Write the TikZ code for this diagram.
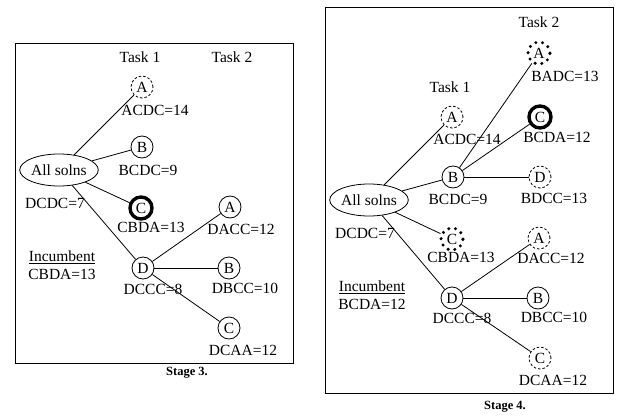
\documentclass[tikz,border=0pt]{standalone}
\usepackage{fontspec}
\setmainfont{Liberation Serif}
\usetikzlibrary{shapes.geometric,positioning}

\begin{document}
\begin{tikzpicture}[x=1pt,y=-1pt,line width=0.8pt,
 every node/.style={font=\fontsize{15.5}{18}\selectfont,inner sep=1pt},
 state/.style={circle,draw,minimum size=22pt,inner sep=0pt},
 pruned/.style={state,dash pattern=on 2.5pt off 2pt},
 dropped/.style={state,line width=3.4pt,dash pattern=on 0pt off 6.8pt,line cap=round},
 best/.style={state,line width=3.4pt},
 root/.style={ellipse,draw,minimum width=70pt,minimum height=32pt,inner sep=0pt},
 stage/.style={font=\fontsize{12.5}{15}\selectfont\bfseries}]

\useasboundingbox (0,0) rectangle (624,420);

% stage 3
\draw (15,43) rectangle (293,363);
\node at (140,57) {Task 1};
\node at (232,57) {Task 2};

\node[root]    (s)  at (59,170)  {All solns};
\node[pruned]  (a1) at (142,87)  {A};
\node[state]   (b1) at (142,147) {B};
\node[best]    (c1) at (141,208) {C};
\node[state]   (d1) at (143,268) {D};
\node[state]   (da) at (230,207) {A};
\node[state]   (db) at (229,268) {B};
\node[state]   (dc) at (229,328) {C};

\node at (155,110) {ACDC=14};
\node at (148,170) {BCDC=9};
\node at (55,203)  {DCDC=7};
\node at (151,227) {CBDA=13};
\node at (153,289) {DCCC=8};
\node at (241,229) {DACC=12};
\node at (245,288) {DBCC=10};
\node at (243,350) {DCAA=12};
\node at (62,257)  {\underline{Incumbent}};
\node at (62,274)  {CBDA=13};
\node[stage] at (187,373) {Stage 3.};

\path (s) edge (a1)
          edge (b1)
          edge (c1)
          edge (d1)
      (d1) edge (da)
           edge (db)
           edge (dc);

% stage 4
\draw (325,7) rectangle (613,393);
\node at (450,87) {Task 1};
\node at (539,22) {Task 2};

\node[root]    (t)  at (369,200) {All solns};
\node[pruned]  (a2) at (452,117) {A};
\node[state]   (b2) at (453,177) {B};
\node[dropped] (c2) at (452,239) {C};
\node[state]   (d2) at (452,298) {D};
\node[dropped] (ba) at (539,53)  {A};
\node[best]    (bc) at (540,117) {C};
\node[pruned]  (bd) at (540,177) {D};
\node[pruned]  (ea) at (539,238) {A};
\node[state]   (eb) at (538,298) {B};
\node[pruned]  (ec) at (540,358) {C};

\node at (565,76)  {BADC=13};
\node at (467,139) {ACDC=14};
\node at (557,137) {BCDA=12};
\node at (458,199) {BCDC=9};
\node at (554,198) {BDCC=13};
\node at (365,233) {DCDC=7};
\node at (461,257) {CBDA=13};
\node at (551,258) {DACC=12};
\node at (462,318) {DCCC=8};
\node at (554,317) {DBCC=10};
\node at (553,380) {DCAA=12};
\node at (372,287) {\underline{Incumbent}};
\node at (372,304) {BCDA=12};
\node[stage] at (505,407) {Stage 4.};

\path (t) edge (a2)
          edge (b2)
          edge (c2)
          edge (d2)
      (b2) edge (ba)
           edge (bc)
           edge (bd)
      (d2) edge (ea)
           edge (eb)
           edge (ec);

\end{tikzpicture}
\end{document}
